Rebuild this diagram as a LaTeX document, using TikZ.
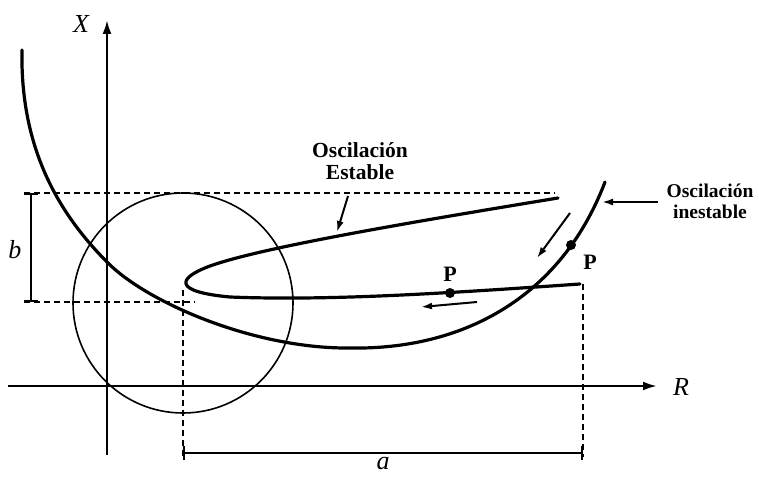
\documentclass[tikz,border=0pt]{standalone}
\usepackage{fontspec}
\setmainfont{Liberation Serif}
\usetikzlibrary{arrows.meta}
\begin{document}
\begin{tikzpicture}[x=1pt,y=-1pt,
  curveline/.style={line width=3.2pt, line cap=round, line join=round},
  axisline/.style={line width=2.4pt, -{Latex[length=14pt,width=9pt]}},
  thinline/.style={line width=1.6pt},
  dimdash/.style={line width=1.5pt, dash pattern=on 6pt off 4pt},
  pointer/.style={line width=2pt, -{Latex[length=11pt,width=7pt]}},
  bracket/.style={line width=1.8pt, {Bar[width=14pt]}-{Bar[width=14pt]}},
  lbl/.style={font=\fontsize{21.5}{22}\selectfont\bfseries, align=center, inner sep=0pt},
  var/.style={font=\fontsize{26}{28}\selectfont\itshape, inner sep=0pt},
  dot/.style={circle, fill=black, inner sep=0pt, minimum size=10pt}]
\useasboundingbox (0,0) rectangle (759,476);

% axes
\coordinate (xs) at (107,455);
\coordinate (xe) at (107,20);
\coordinate (rs) at (8,386);
\coordinate (re) at (657,386);
\draw[axisline] (xs) -- (xe);
\draw[axisline] (rs) -- (re);
\node[var] (xl) at (81,24) {X};
\node[var] (rl) at (681,387) {R};

% circle
\coordinate (cc) at (183,303);
\draw[thinline] (cc) circle[radius=110];

% dashed guide lines
\coordinate (t1) at (24,193);
\coordinate (t2) at (555,193);
\coordinate (l1) at (24,302);
\coordinate (l2) at (195,302);
\coordinate (v1a) at (183,290);
\coordinate (v1b) at (183,457);
\coordinate (v2a) at (583,284);
\coordinate (v2b) at (583,457);
\draw[dimdash] (t1) -- (t2);
\draw[dimdash] (l1) -- (l2);
\draw[dimdash] (v1a) -- (v1b);
\draw[dimdash] (v2a) -- (v2b);

% brackets a and b
\coordinate (bt) at (31,193);
\coordinate (bb) at (31,302);
\draw[bracket] (bt) -- (bb);
\node[var] (bl) at (15,250) {b};
\coordinate (al) at (183,453);
\coordinate (ar) at (583,453);
\draw[bracket] (al) -- (ar);
\node[var, anchor=base] (alab) at (383,469) {a};

% unstable curve
\coordinate (u0) at (22,50);
\coordinate (u1) at (108,263);
\coordinate (u2) at (350,348);
\coordinate (u3) at (605,182);
\draw[curveline] (u0) .. controls (20,150) and (60,215) .. (u1)
  .. controls (148,303) and (255,349) .. (u2)
  .. controls (460,350) and (560,300) .. (u3);

% stable curve (hairpin)
\coordinate (s0) at (558,198);
\coordinate (s1) at (210,266);
\coordinate (s2) at (230,297);
\coordinate (s3) at (580,284);
\draw[curveline] (s0) .. controls (400,224) and (260,248) .. (s1)
  .. controls (175,279) and (175,292) .. (s2)
  .. controls (330,301) and (450,293) .. (s3);

% points P
\node[dot] (p1) at (450,293) {};
\node[dot] (p2) at (571,245) {};
\node[lbl, font=\fontsize{22}{22}\selectfont\bfseries] (p1l) at (450,274) {P};
\node[lbl, font=\fontsize{22}{22}\selectfont\bfseries] (p2l) at (590,262) {P};

% labels
\node[lbl] (lblE) at (360,161) {Oscilación\\Estable};
\node[lbl, font=\fontsize{19.5}{21}\selectfont\bfseries] (lblI) at (710,201) {Oscilación\\inestable};

% pointer arrows
\coordinate (eS) at (348,196);
\coordinate (eT) at (337,232);
\draw[pointer] (eS) -- (eT);
\coordinate (iS) at (658,202);
\coordinate (iT) at (602,202);
\draw[pointer] (iS) -- (iT);
\coordinate (dS) at (570,213);
\coordinate (dT) at (537,258);
\draw[pointer] (dS) -- (dT);
\coordinate (hS) at (477,302);
\coordinate (hT) at (421,307);
\draw[pointer] (hS) -- (hT);
\end{tikzpicture}
\end{document}
